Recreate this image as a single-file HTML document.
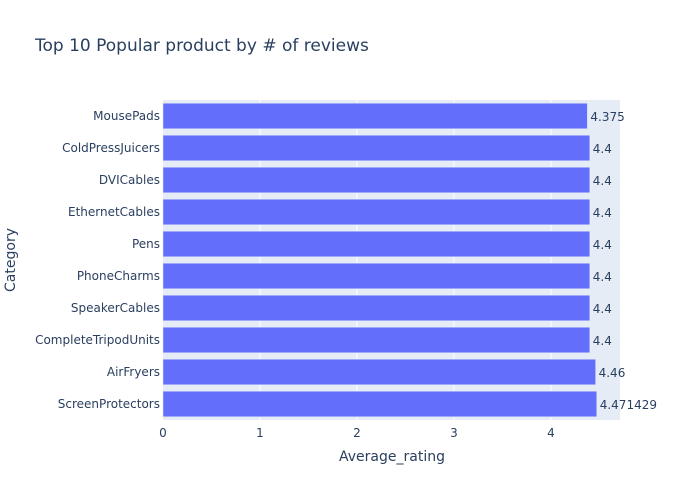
<!DOCTYPE html>
<html><head><meta charset="utf-8"><style>
body{margin:0;background:#fff;font-family:"DejaVu Sans",sans-serif}
svg text{font-family:"DejaVu Sans",sans-serif;fill:#2a3f5f}
</style></head><body>
<svg id="chart" width="700" height="500">
<text x="35" y="51" font-size="17">Top 10 Popular product by # of reviews</text>
<rect x="163" y="100" width="457" height="320" fill="#e5ecf6"/>
<g id="grid"></g><g id="bars"></g><g id="labels"></g>
<text x="392" y="461" font-size="14" text-anchor="middle">Average_rating</text>
<text transform="translate(15,260) rotate(-90)" font-size="14" text-anchor="middle">Category</text>
</svg>
<script>
const categories=["MousePads","ColdPressJuicers","DVICables","EthernetCables","Pens","PhoneCharms","SpeakerCables","CompleteTripodUnits","AirFryers","ScreenProtectors"];
const values=[4.375,4.4,4.4,4.4,4.4,4.4,4.4,4.4,4.46,4.471429];
const valueLabels=["4.375","4.4","4.4","4.4","4.4","4.4","4.4","4.4","4.46","4.471429"];
const xTicks=[0,1,2,3,4];
const NS="http://www.w3.org/2000/svg";
const x0=163,x1=620,xMax=4.7113,y0=100,y1=420;
const X=v=>x0+v/xMax*(x1-x0);
const band=(y1-y0)/categories.length;
const Y=i=>y0+i*band;
function mk(t,a,p){const e=document.createElementNS(NS,t);for(const k in a)e.setAttribute(k,a[k]);p.appendChild(e);return e;}
const g=document.getElementById('grid'),b=document.getElementById('bars'),l=document.getElementById('labels');
xTicks.forEach(t=>{
 if(t>0){const ln=mk('line',{x1:X(t),x2:X(t),y1:y0,y2:y1,stroke:'#fff','stroke-width':1},g);
 
 }
 const tx=mk('text',{x:X(t),y:y1+17,'font-size':12,'text-anchor':'middle'},l);tx.textContent=t;
 
 
});
categories.forEach((c,i)=>{
 const yb=Y(i)+band*0.1,h=band*0.8;
 const r=mk('rect',{x:x0,y:yb,width:X(values[i])-x0,height:h,fill:'#636efa',stroke:'#e5ecf6','stroke-width':0.5},b);
 
 
 const v=mk('text',{x:X(values[i])+3,y:Y(i)+band/2+5,'font-size':12},l);v.textContent=valueLabels[i];
 
 
 const t=mk('text',{x:x0-3,y:Y(i)+band/2+4,'font-size':12,'text-anchor':'end'},l);t.textContent=c;
 
 
});
</script>
</body></html>
